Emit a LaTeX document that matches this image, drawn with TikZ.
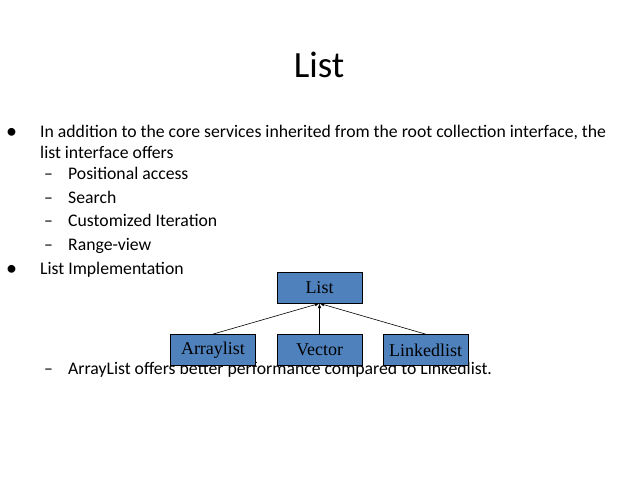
\documentclass[tikz,border=0pt]{standalone}
\usepackage{fontspec}
\setmainfont{Carlito}
\newfontfamily\boxfont{Liberation Serif}
\begin{document}
\begin{tikzpicture}[x=1pt,y=-1pt,
  txt/.style={anchor=base west,inner sep=0,font=\fontsize{17.7}{20}\selectfont},
  cls/.style={draw=black,fill=cbox,minimum width=85pt,minimum height=31pt,inner sep=0,font=\boxfont\fontsize{18}{20}\selectfont,line width=0.8pt},
  arr/.style={-latex,line width=0.6pt}]
\definecolor{cbox}{RGB}{79,129,189}
\useasboundingbox (0,0) rectangle (638,479);
\node[anchor=base,inner sep=0,font=\fontsize{37}{40}\selectfont] (title) at (319,77) {List};
\node[txt,font=\fontsize{22}{22}\selectfont] (b1) at (6,138) {•};
\node[txt] (t1) at (40,137) {In addition to the core services inherited from the root collection interface, the};
\node[txt] (t2) at (40,158) {list interface offers};
\node[txt] (d1) at (44,179) {–}; \node[txt] (s1) at (68,179) {Positional access};
\node[txt] (d2) at (44,203) {–}; \node[txt] (s2) at (68,203) {Search};
\node[txt] (d3) at (44,226) {–}; \node[txt] (s3) at (68,226) {Customized Iteration};
\node[txt] (d4) at (44,250) {–}; \node[txt] (s4) at (68,250) {Range-view};
\node[txt,font=\fontsize{22}{22}\selectfont] (b2) at (6,275) {•};
\node[txt] (t3) at (40,274) {List Implementation};
\node[txt] (d5) at (44,374) {–}; \node[txt] (s5) at (68,374) {ArrayList offers better performance compared to Linkedlist.};
\node[cls] (list) at (319.5,287.5) {List};
\node[cls] (al) at (213,350) {Arraylist};
\node[cls] (ve) at (319.5,350) {Vector};
\node[cls] (ll) at (425.5,350) {Linkedlist};
\draw[arr] (al.north) -- (list.south);
\draw[arr] (ve.north) -- (list.south);
\draw[arr] (ll.north) -- (list.south);
\end{tikzpicture}
\end{document}
